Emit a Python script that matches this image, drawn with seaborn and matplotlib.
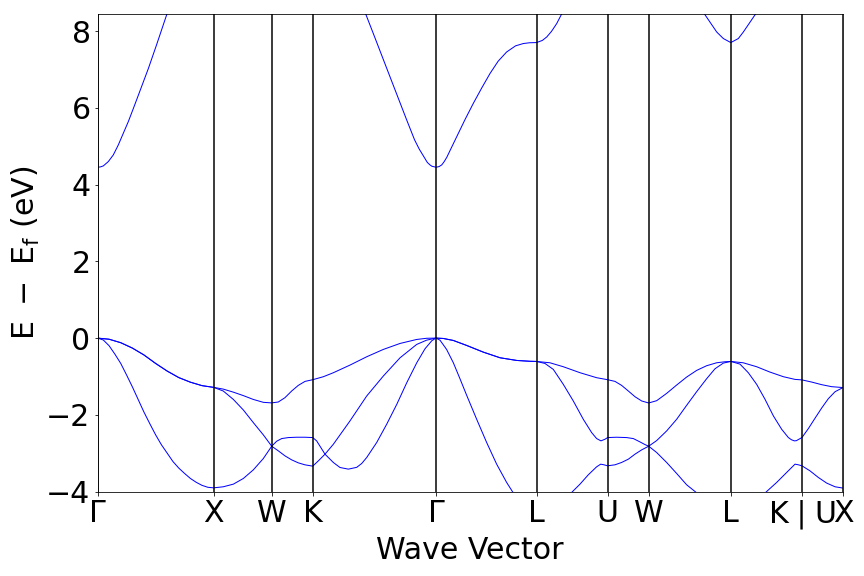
import matplotlib
matplotlib.use("Agg")
import matplotlib.pyplot as plt
import numpy as np
import pandas as pd
import seaborn as sns

# ---- high-symmetry path (cumulative k-distance, 2pi/a units) ----
kpt_labels = ["Γ", "X", "W", "K", "Γ", "L", "U", "W", "L", r"K$\mid$U", "X"]
kpt_pos = [0.0, 1.0, 1.5, 1.8536, 2.9142, 3.7802, 4.3926, 4.7462, 5.4533, 6.0657, 6.4193]
yticks = [-4, -2, 0, 2, 4, 6, 8]

# ---- heavy-hole pair (degenerate on Γ-X and Γ-L) ----
hh_gx_k = [0.0, 0.1, 0.2, 0.3, 0.4, 0.5, 0.6, 0.7, 0.8, 0.9, 1.0]
hh_gx_e = [0.0, -0.03, -0.12, -0.26, -0.44, -0.66, -0.86, -1.03, -1.15, -1.24, -1.285]
hh_gl_k = [2.9142, 2.978, 3.064, 3.179, 3.322, 3.466, 3.61, 3.724, 3.7802]
hh_gl_e = [0.0, -0.01, -0.062, -0.192, -0.366, -0.513, -0.583, -0.605, -0.609]

# ---- top valence band (v1), X ... Γ  and  L ... X ----
v1a_k = [1.083, 1.170, 1.256, 1.342, 1.428, 1.5, 1.557, 1.614, 1.672, 1.729, 1.787, 1.8536,
         1.945, 2.031, 2.174, 2.318, 2.461, 2.605, 2.748, 2.834]
v1a_e = [-1.33, -1.41, -1.50, -1.60, -1.675, -1.69, -1.666, -1.554, -1.38, -1.233, -1.129, -1.085,
         -1.007, -0.903, -0.704, -0.487, -0.296, -0.14, -0.036, -0.005]
v1b_k = [3.896, 4.011, 4.155, 4.298, 4.3926, 4.456, 4.513, 4.571, 4.628, 4.686, 4.7462,
         4.815, 4.901, 4.987, 5.073, 5.159, 5.245, 5.331, 5.403, 5.4533,
         5.56, 5.676, 5.79, 5.906, 6.006, 6.0657, 6.149, 6.236, 6.322, 6.4193]
v1b_e = [-0.644, -0.747, -0.903, -1.033, -1.085, -1.129, -1.233, -1.38, -1.528, -1.64, -1.692,
         -1.632, -1.441, -1.224, -1.016, -0.843, -0.721, -0.644, -0.617, -0.609,
         -0.644, -0.747, -0.886, -1.007, -1.077, -1.09, -1.146, -1.215, -1.267, -1.29]

# ---- second valence band (v2) ----
v2a_k = [1.083, 1.170, 1.256, 1.342, 1.428, 1.5, 1.543, 1.586, 1.643, 1.715, 1.787, 1.8536,
         1.887, 1.959, 2.031, 2.088, 2.16, 2.232, 2.275, 2.318, 2.404, 2.49, 2.577, 2.663, 2.749,
         2.82, 2.878]
v2a_e = [-1.38, -1.6, -1.875, -2.205, -2.524, -2.819, -2.689, -2.62, -2.594, -2.585, -2.585, -2.594,
         -2.68, -3.027, -3.244, -3.374, -3.417, -3.37, -3.27, -3.114, -2.723, -2.247, -1.727, -1.163,
         -0.644, -0.279, -0.071]
v2b_k = [3.853, 3.925, 4.011, 4.097, 4.183, 4.255, 4.298, 4.335, 4.37, 4.3926,
         4.47, 4.556, 4.614, 4.671, 4.714, 4.7462,
         4.815, 4.901, 4.987, 5.073, 5.159, 5.245, 5.317, 5.389, 5.4533,
         5.532, 5.604, 5.676, 5.748, 5.82, 5.891, 5.949, 5.975, 6.0, 6.018, 6.035, 6.0657,
         6.121, 6.178, 6.236, 6.293, 6.351, 6.4193]
v2b_e = [-0.661, -0.817, -1.207, -1.64, -2.117, -2.464, -2.62, -2.68, -2.637, -2.594,
         -2.585, -2.594, -2.62, -2.707, -2.776, -2.819,
         -2.672, -2.42, -2.117, -1.753, -1.398, -1.06, -0.8, -0.652, -0.609,
         -0.678, -0.903, -1.207, -1.597, -2.03, -2.377, -2.594, -2.65, -2.68, -2.675, -2.645, -2.594,
         -2.36, -2.091, -1.822, -1.58, -1.398, -1.29]

# ---- third valence band (v3), three visible pieces ----
v3a_k = [0.0, 0.05, 0.1, 0.15, 0.2, 0.25, 0.3, 0.35, 0.4, 0.45, 0.5, 0.55, 0.6, 0.65, 0.7, 0.75,
         0.8, 0.85, 0.9, 0.95, 1.0,
         1.083, 1.170, 1.256, 1.342, 1.428, 1.5,
         1.557, 1.614, 1.672, 1.729, 1.787, 1.8536,
         1.902, 1.959, 2.031, 2.174, 2.318, 2.461, 2.605, 2.748, 2.834, 2.9142,
         2.949, 3.006, 3.064, 3.121, 3.179, 3.265, 3.351, 3.437, 3.523, 3.572, 3.62]
v3a_e = [0.0, -0.05, -0.2, -0.42, -0.66, -0.96, -1.27, -1.6, -1.93, -2.23, -2.52, -2.78, -3.0, -3.22,
         -3.39, -3.53, -3.66, -3.76, -3.84, -3.89, -3.905,
         -3.877, -3.808, -3.66, -3.435, -3.14, -2.819,
         -2.94, -3.07, -3.175, -3.253, -3.305, -3.339,
         -3.2, -3.027, -2.767, -2.16, -1.51, -0.99, -0.514, -0.166, -0.054, 0.0,
         -0.054, -0.296, -0.643, -1.059, -1.493, -2.117, -2.723, -3.287, -3.764, -3.998, -4.2]
v3b_k = [4.05, 4.091, 4.155, 4.226, 4.298, 4.333, 4.361, 4.3926,
         4.456, 4.513, 4.571, 4.628, 4.686, 4.7462,
         4.815, 4.901, 4.987, 5.073, 5.145, 5.19]
v3b_e = [-4.12, -4.0, -3.807, -3.565, -3.356, -3.287, -3.304, -3.33,
         -3.304, -3.243, -3.157, -3.027, -2.914, -2.819,
         -2.984, -3.244, -3.53, -3.825, -4.0, -4.11]
v3c_k = [5.72, 5.762, 5.848, 5.934, 6.006, 6.035, 6.0657, 6.135, 6.207, 6.279, 6.351, 6.4193]
v3c_e = [-4.12, -4.0, -3.764, -3.504, -3.287, -3.304, -3.33, -3.461, -3.634, -3.781, -3.877, -3.911]

# ---- lowest conduction band, three visible pieces ----
cba_k = [0.0, 0.025, 0.05, 0.093, 0.136, 0.179, 0.222, 0.265, 0.309, 0.352, 0.395, 0.438,
         0.509, 0.59, 0.65]
cba_e = [4.455, 4.463, 4.489, 4.602, 4.775, 5.035, 5.339, 5.642, 5.989, 6.335, 6.682, 7.029,
         7.65, 8.38, 8.9]
cbb_k = [2.27, 2.312, 2.375, 2.519, 2.662, 2.73, 2.77, 2.806, 2.84, 2.863, 2.88, 2.9142,
         2.94, 2.964, 2.985, 3.007, 3.05, 3.093, 3.165, 3.236, 3.31, 3.38, 3.45, 3.523, 3.6,
         3.667, 3.72, 3.7802, 3.83, 3.868, 3.91, 3.954, 3.983, 4.03]
cbb_e = [8.76, 8.43, 7.94, 6.81, 5.69, 5.17, 4.93, 4.75, 4.58, 4.515, 4.48, 4.455,
         4.47, 4.515, 4.6, 4.71, 4.98, 5.25, 5.7, 6.12, 6.53, 6.9, 7.22, 7.46, 7.62,
         7.68, 7.70, 7.705, 7.76, 7.85, 8.0, 8.2, 8.37, 8.65]
cbc_k = [5.19, 5.231, 5.332, 5.389, 5.4533, 5.518, 5.561, 5.662, 5.70]
cbc_e = [8.62, 8.43, 7.98, 7.81, 7.705, 7.81, 7.98, 8.43, 8.62]

# ---- assemble long table ----
lines = {
    "v1": (hh_gx_k + v1a_k + hh_gl_k + v1b_k, hh_gx_e + v1a_e + hh_gl_e + v1b_e),
    "v2": (hh_gx_k + v2a_k + hh_gl_k + v2b_k, hh_gx_e + v2a_e + hh_gl_e + v2b_e),
    "v3a": (v3a_k, v3a_e), "v3b": (v3b_k, v3b_e), "v3c": (v3c_k, v3c_e),
    "cba": (cba_k, cba_e), "cbb": (cbb_k, cbb_e), "cbc": (cbc_k, cbc_e),
}
rows = []
for name, (ks, es) in lines.items():
    for kk, ee in zip(ks, es):
        rows.append((name, kk, ee))
df = pd.DataFrame(rows, columns=["line", "k", "E"])

sns.set_style("ticks", {"axes.edgecolor": "black", "xtick.color": "black", "ytick.color": "black",
                        "text.color": "black", "axes.labelcolor": "black"})
plt.rcParams["font.family"] = ["DejaVu Sans"]
plt.rcParams["mathtext.fontset"] = "dejavusans"

fig = plt.figure(figsize=(12, 8), dpi=72)
ax = fig.add_axes([97.5 / 864, (576 - 491.5) / 576, (843 - 97.5) / 864, (491.5 - 14) / 576])
sns.lineplot(data=df, x="k", y="E", units="line", estimator=None, sort=False,
             color="blue", linewidth=1, ax=ax, legend=False)
for p in kpt_pos:
    ax.axvline(p, color="black", linewidth=1.5)
ax.set_xlim(kpt_pos[0], kpt_pos[-1])
ax.set_ylim(-4, 8.45)
ax.set_xticks(kpt_pos)
ax.set_xticklabels(kpt_labels)
ax.set_yticks(yticks)
ax.tick_params(labelsize=30)
ax.set_xlabel("Wave Vector", fontsize=30)
ax.set_ylabel(r"$\mathrm{E\ -\ E_f\ (eV)}$", fontsize=30)
fig.savefig("out.png", dpi=72)
